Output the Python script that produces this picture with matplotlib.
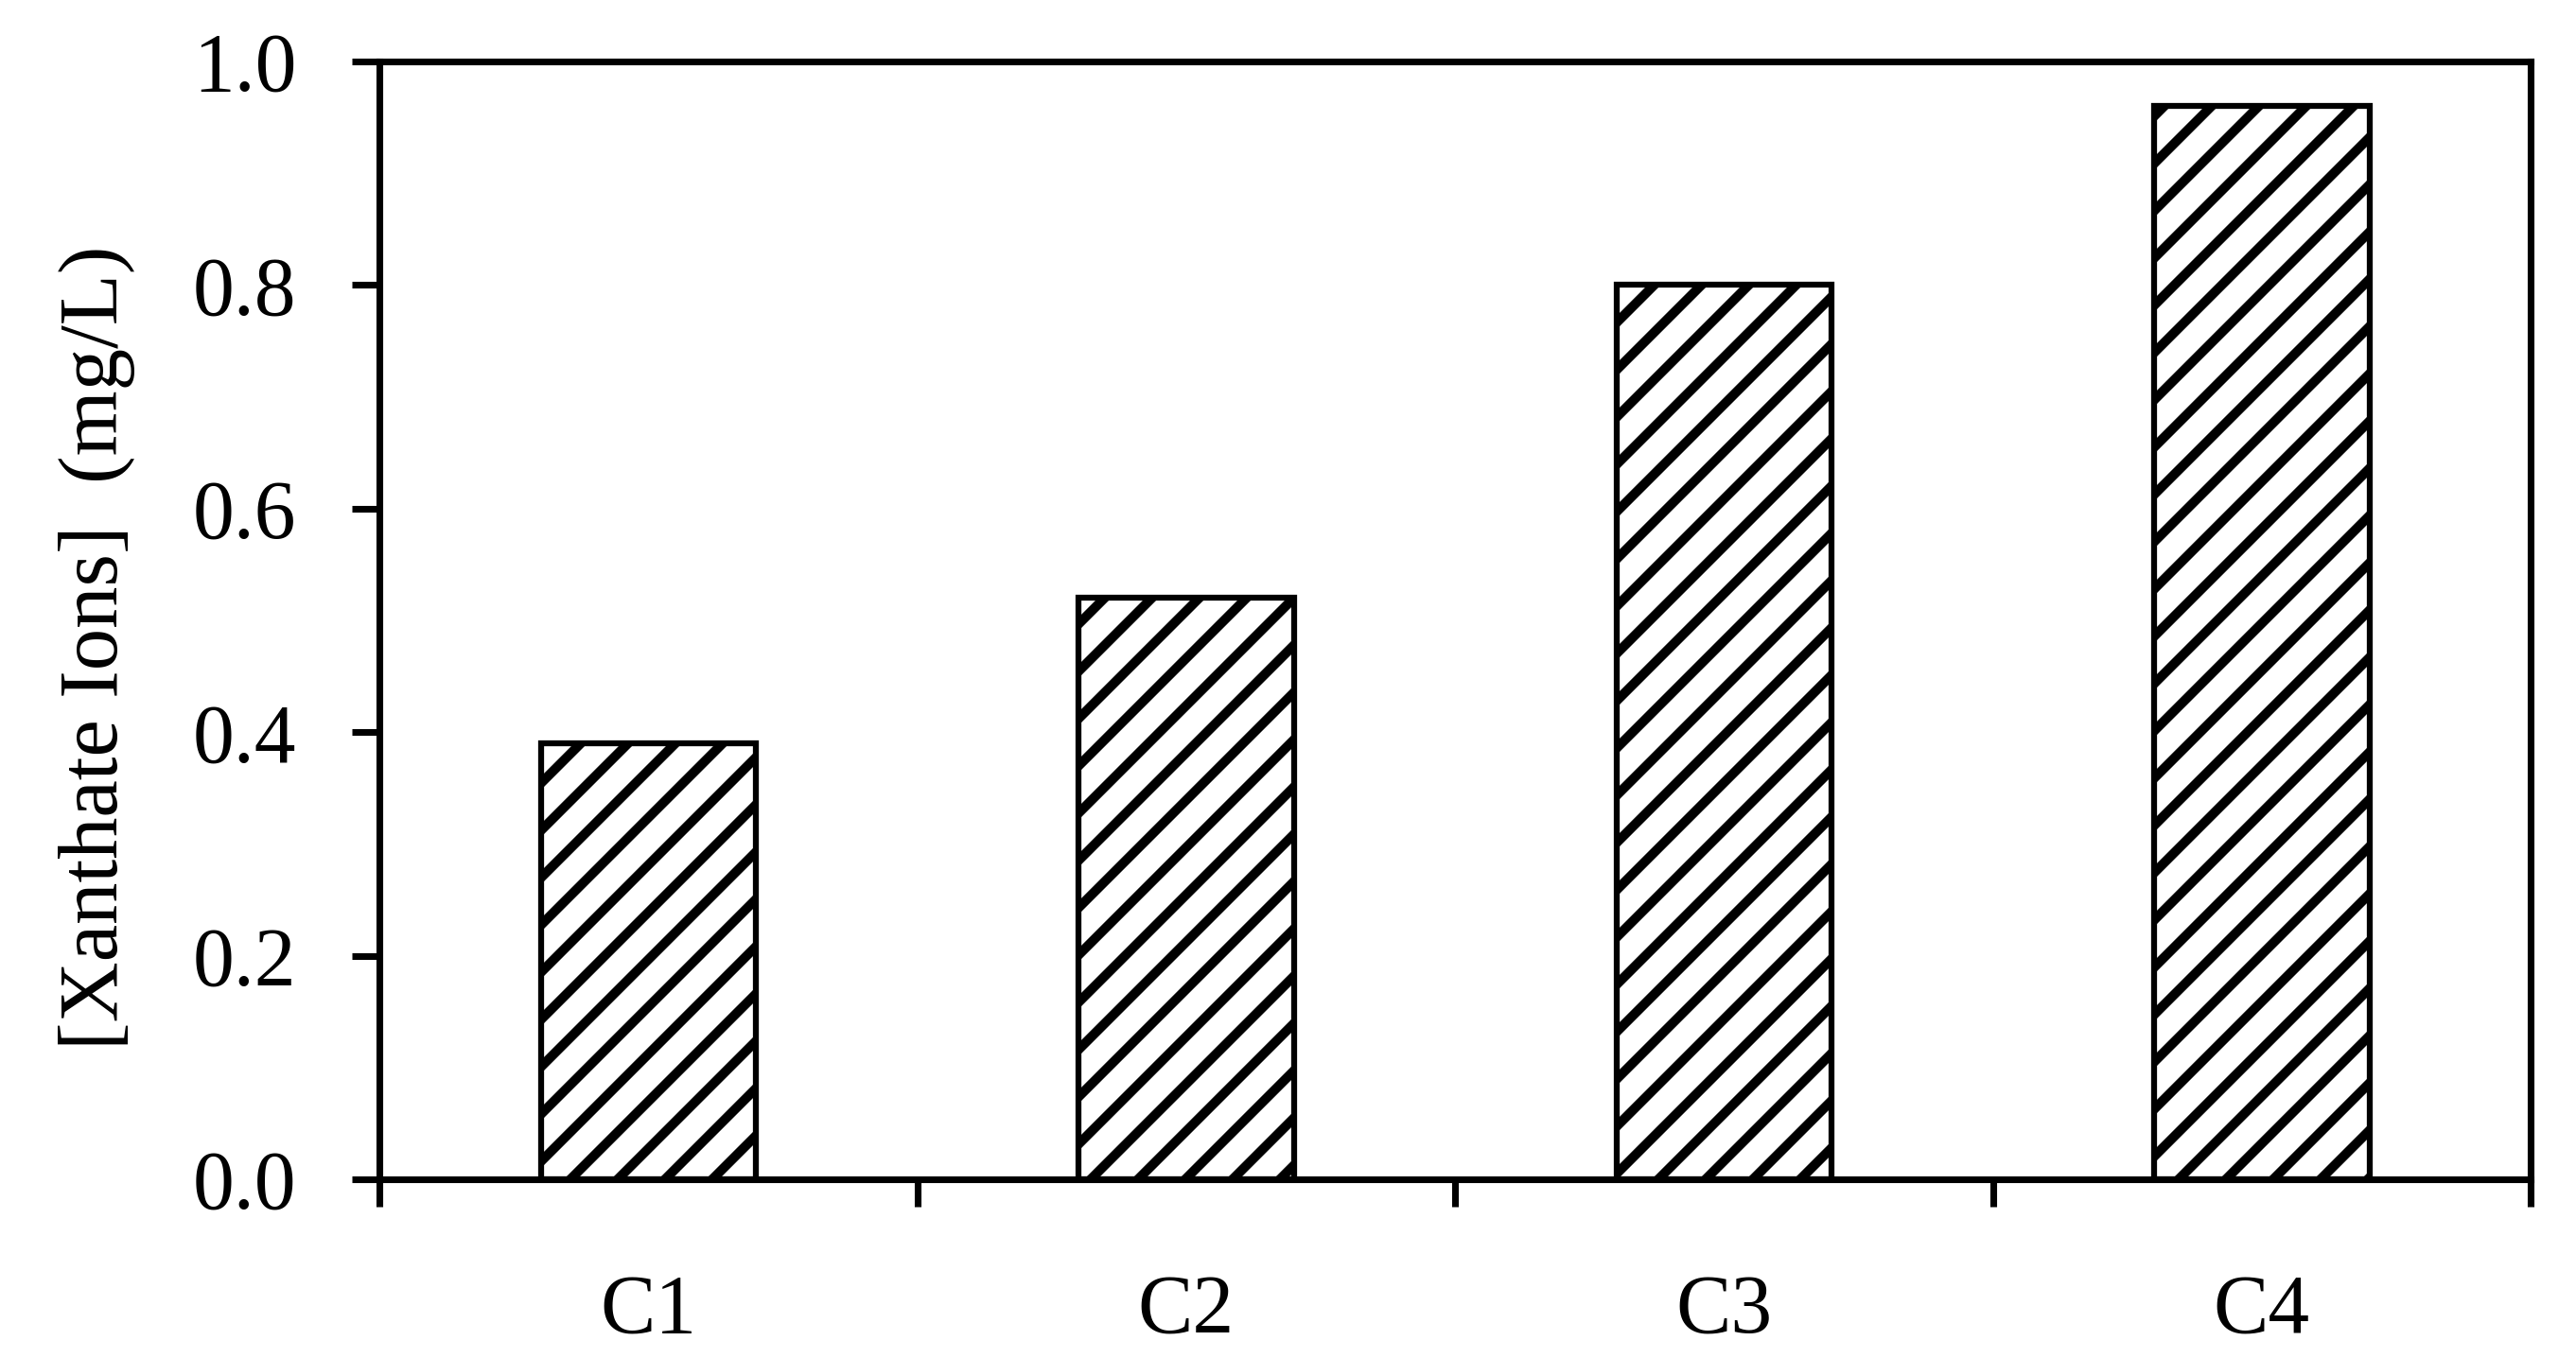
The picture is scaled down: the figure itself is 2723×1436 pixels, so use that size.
import matplotlib
matplotlib.use("Agg")
import matplotlib.pyplot as plt

# Data
categories = ['C1', 'C2', 'C3', 'C4']
xanthate = [0.39, 0.52, 0.80, 0.96]
y_ticks = [0.0, 0.2, 0.4, 0.6, 0.8, 1.0]

plt.rcParams['font.family'] = ['Liberation Serif', 'DejaVu Serif']
plt.rcParams['hatch.linewidth'] = 2.4

fig = plt.figure(figsize=(2723 / 300, 1436 / 300), dpi=300)
ax = fig.add_axes([0.1473, 0.1316, 0.9824 - 0.1473, 0.9547 - 0.1316])

# Bars
pos = list(range(len(categories)))
bars = ax.bar(pos, xanthate, width=0.4, color='white', edgecolor='black',
              linewidth=1.5, hatch='//')
for b in bars:
    b.set_hatch_linewidth(2.4)

# Axes limits and ticks
ax.set_xlim(-0.5, len(categories) - 0.5)
ax.set_ylim(0, 1.0)
ax.set_yticks(y_ticks)
ax.set_yticklabels(['%.1f' % t for t in y_ticks])

# major ticks between categories, labels on minor ticks
ax.set_xticks([p - 0.5 for p in pos] + [pos[-1] + 0.5])
ax.set_xticklabels([])
ax.set_xticks(pos, minor=True)
ax.set_xticklabels(categories, minor=True)
ax.tick_params(axis='x', which='minor', length=0, pad=24, labelsize=21)
ax.tick_params(axis='x', which='major', direction='out', length=7, width=1.7)
ax.tick_params(axis='y', direction='out', length=7, width=1.7, pad=14,
               labelsize=21)

for s in ax.spines.values():
    s.set_linewidth(1.7)

ax.set_ylabel('[Xanthate Ions]  (mg/L)', fontsize=21.3)
ax.yaxis.set_label_coords(-0.1135, 0.476)

fig.savefig('out.png', dpi=300)
